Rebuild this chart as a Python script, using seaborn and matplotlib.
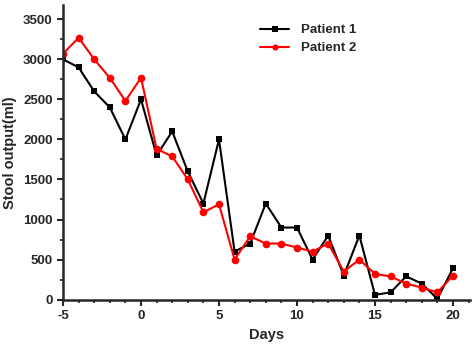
import matplotlib
matplotlib.use("Agg")
import matplotlib.pyplot as plt
import numpy as np
import pandas as pd
import seaborn as sns
from matplotlib.ticker import MultipleLocator

days = list(range(-5, 21))
patient1 = [3000, 2900, 2600, 2400, 2000, 2500, 1800, 2100, 1600, 1200, 2000, 600, 700,
            1200, 900, 900, 500, 800, 300, 800, 60, 90, 290, 200, 10, 390]
patient2 = [3070, 3270, 3000, 2770, 2480, 2770, 1880, 1790, 1500, 1090, 1190, 500, 790,
            700, 700, 650, 600, 700, 350, 500, 320, 290, 200, 150, 90, 300]

sns.set_style("ticks")
plt.rcParams['font.family'] = ['Liberation Sans', 'DejaVu Sans']
plt.rcParams['font.weight'] = 'bold'
plt.rcParams['axes.unicode_minus'] = False

fig = plt.figure(figsize=(4.72, 3.5), dpi=100)
ax = fig.add_axes([0.1335, 0.144, 0.8625, 0.842])

sns.lineplot(x=days, y=patient1, color='black', marker='s', markersize=5,
             markeredgewidth=0, linewidth=1.5, label='Patient 1', ax=ax)
sns.lineplot(x=days, y=patient2, color='red', marker='o', markersize=5.5,
             markeredgewidth=0, linewidth=1.5, label='Patient 2', ax=ax)

ax.set_xlim(-5, 21.1)
ax.set_ylim(0, 3680)
ax.xaxis.set_major_locator(MultipleLocator(5))
ax.xaxis.set_minor_locator(MultipleLocator(1))
ax.yaxis.set_major_locator(MultipleLocator(500))
ax.yaxis.set_minor_locator(MultipleLocator(250))
sns.despine(ax=ax)
for s in ['left', 'bottom']:
    ax.spines[s].set_linewidth(1.8)
ax.tick_params(which='major', length=4, width=1.5, labelsize=9.5, direction='out')
ax.tick_params(which='minor', length=2.5, width=1.2, direction='out')
for lab in ax.get_xticklabels() + ax.get_yticklabels():
    lab.set_fontweight('bold')

ax.set_xlabel('Days', fontsize=10.5, fontweight='bold')
ax.set_ylabel('Stool output(ml)', fontsize=10.5, fontweight='bold')

leg = ax.legend(loc='upper left', bbox_to_anchor=(0.455, 0.975), frameon=False,
                fontsize=9.5, handlelength=2.2, handletextpad=0.9, labelspacing=0.42,
                markerscale=0.8)
for t in leg.get_texts():
    t.set_fontweight('bold')

fig.savefig('out.png', dpi=100)
